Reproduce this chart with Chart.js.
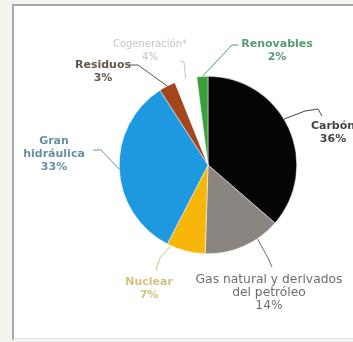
<!DOCTYPE html>
<html>
<head>
<meta charset="utf-8">
<script src="https://cdn.jsdelivr.net/npm/chart.js@4/dist/chart.umd.min.js"></script>
<style>
  html, body { margin: 0; padding: 0; background: #f4f3ee; }
  canvas { display: block; }
</style>
</head>
<body>
<canvas id="pieChart" width="353" height="342"></canvas>
<script>
// generacion electrica por fuente (%)
const sources = ['Carbón', 'Gas natural y derivados del petróleo', 'Nuclear', 'Gran hidráulica', 'Residuos', 'Cogeneración*', 'Renovables'];
const shares = [36, 14, 7, 33, 3, 4, 2];
const sliceColors = ['#050505', '#8a8580', '#f6b60a', '#1e98e0', '#a4461c', '#ffffff', '#3a9e3a'];

// texto de cada etiqueta (lineas)
const labelLines = [
  ['Carbón', '36%'],
  ['Gas natural y derivados', 'del petróleo', '14%'],
  ['Nuclear', '7%'],
  ['Gran', 'hidráulica', '33%'],
  ['Residuos', '3%'],
  ['Cogeneración*', '4%'],
  ['Renovables', '2%'],
];

// posicion de etiquetas y quiebres de la linea guia
const labelStyle = [
  { x: 333, y: 126, color: '#444444', font: 'bold 11px', at: 0.45, leader: [[305, 111], [318, 109], [322, 116]] },
  { x: 269, y: 280, color: '#6e6e6e', font: '12.3px', at: 0.3, leader: [[268, 258], [272, 267]] },
  { x: 149, y: 282, color: '#d3c27f', font: 'bold 11px', at: 0.9, leader: [[160, 258], [156, 270]] },
  { x: 54, y: 141, color: '#6691a0', font: 'bold 11px', at: 0.5, leader: [[101, 150], [93, 150]] },
  { x: 103, y: 65, color: '#62584e', font: 'bold 11px', at: 0.5, leader: [[138, 65], [129, 65]] },
  { x: 150, y: 44, color: '#c6c6c6', font: '10px', at: 0.5, leader: [[184, 62], [180, 61]] },
  { x: 277, y: 44, color: '#559c72', font: 'bold 11px', at: 0.5, leader: [[232, 45], [238, 45]] },
];

const panelPlugin = {
  id: 'panel',
  beforeDraw(chart) {
    const ctx = chart.ctx;
    ctx.save();
    ctx.fillStyle = '#ffffff';
    ctx.fillRect(13, 5, 345, 333);
    ctx.strokeStyle = '#a9a9a9';
    ctx.lineWidth = 2;
    ctx.beginPath();
    ctx.moveTo(13, 340);
    ctx.lineTo(13, 5);
    ctx.lineTo(360, 5);
    ctx.stroke();
    ctx.strokeStyle = '#e2e2e2';
    ctx.lineWidth = 1;
    ctx.beginPath();
    ctx.moveTo(13, 338.5);
    ctx.lineTo(360, 338.5);
    ctx.stroke();
    ctx.restore();
  }
};

const labelPlugin = {
  id: 'pieLabels',
  afterDraw(chart) {
    const ctx = chart.ctx;
    const arcs = chart.getDatasetMeta(0).data;
    ctx.save();
    ctx.textAlign = 'center';
    ctx.textBaseline = 'middle';
    arcs.forEach((arc, i) => {
      const st = labelStyle[i];
      const p = arc.getProps(['x', 'y', 'startAngle', 'endAngle', 'outerRadius'], true);
      const a = p.startAngle + (p.endAngle - p.startAngle) * st.at;
      const sx = p.x + Math.cos(a) * p.outerRadius;
      const sy = p.y + Math.sin(a) * p.outerRadius;
      ctx.strokeStyle = st.color;
      ctx.lineWidth = 1;
      ctx.beginPath();
      ctx.moveTo(sx, sy);
      st.leader.forEach(pt => ctx.lineTo(pt[0], pt[1]));
      ctx.stroke();
      ctx.fillStyle = st.color;
      ctx.font = st.font + ' "DejaVu Sans", sans-serif';
      labelLines[i].forEach((line, j) => {
        ctx.fillText(line, st.x, st.y + j * 13);
      });
    });
    ctx.restore();
  }
};

new Chart(document.getElementById('pieChart'), {
  type: 'pie',
  data: {
    labels: sources,
    datasets: [{
      data: shares,
      backgroundColor: sliceColors,
      borderColor: '#ffffff',
      borderWidth: 0.5,
    }],
  },
  options: {
    responsive: false,
    animation: false,
    layout: { padding: { left: 119, right: 56, top: 76, bottom: 88 } },
    plugins: {
      legend: { display: false },
      tooltip: { enabled: false },
    },
  },
  plugins: [panelPlugin, labelPlugin],
});
</script>
</body>
</html>
